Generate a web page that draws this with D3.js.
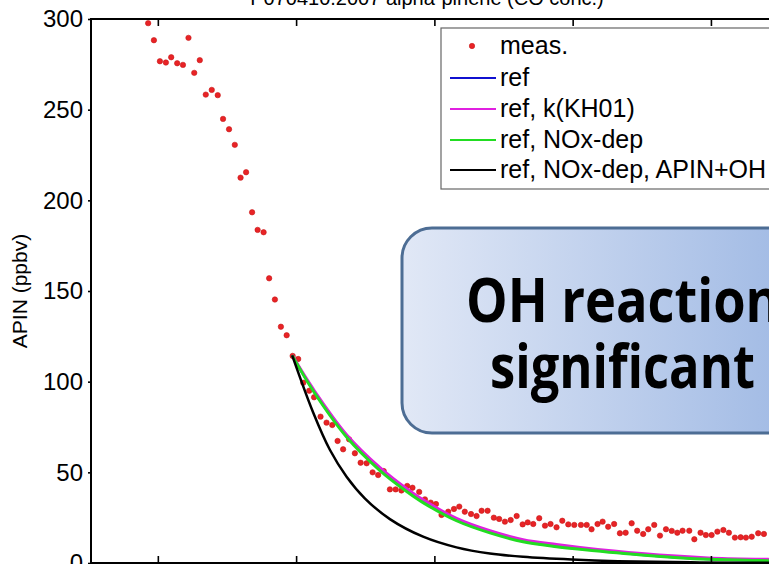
<!DOCTYPE html>
<html>
<head>
<meta charset="utf-8">
<script src="https://cdn.jsdelivr.net/npm/d3@7"></script>
<style>
  body { margin: 0; background: #fff; }
  svg { display: block; font-family: "Liberation Sans", Arial, sans-serif; }
</style>
</head>
<body>
<svg width="769" height="564"></svg>
<script>
// measured alpha-pinene (time in min, ppbv)
const measTime = [55.8, 58.3, 60.9, 63.5, 65.8, 68.4, 70.9, 73.3, 75.8, 78.2, 80.8, 83.4, 86.0, 88.3, 90.9, 93.4,
  95.9, 98.3, 100.9, 103.3, 105.9, 108.3, 110.8, 113.4, 115.9, 118.5, 120.9, 123.1, 125.7, 127.8, 130.6, 133.2,
  135.7, 138.0, 140.4, 143.0, 145.5, 148.0, 150.6, 153.2, 155.6, 158.0, 160.7, 163.2, 165.7, 168.2, 170.5, 173.4,
  175.9, 178.4, 180.7, 183.1, 186.0, 188.5, 190.8, 193.2, 195.9, 198.3, 200.5, 203.1, 205.8, 208.1, 210.6, 213.1,
  215.7, 218.3, 220.5, 222.9, 225.5, 228.0, 230.4, 233.0, 235.5, 238.1, 240.7, 243.6, 246.1, 248.2, 250.8, 253.0,
  255.4, 258.0, 260.5, 263.0, 265.6, 268.0, 270.6, 272.8, 275.4, 277.9, 280.5, 283.0, 285.4, 287.7, 290.6, 292.8,
  295.5, 297.8, 300.3, 302.8, 305.4, 307.8, 310.4, 312.9, 315.2, 317.7, 320.5, 323.0];
const measAPIN = [297.7, 288.3, 276.7, 276.0, 278.9, 275.6, 274.7, 289.6, 270.3, 277.3, 258.3, 260.9, 258.0, 244.9, 239.2, 230.6,
  212.5, 215.5, 193.4, 183.7, 182.4, 157.0, 145.3, 130.3, 125.6, 114.2, 112.5, 99.4, 95.0, 91.4, 80.7, 77.4,
  76.1, 67.3, 62.7, 68.2, 60.5, 55.3, 55.0, 50.0, 48.5, 50.7, 40.6, 40.6, 40.0, 42.5, 41.5, 39.2,
  35.1, 33.3, 32.5, 26.5, 28.3, 29.8, 31.1, 28.3, 27.0, 25.9, 28.8, 28.8, 25.0, 24.3, 22.8, 23.7,
  25.9, 21.3, 22.4, 21.5, 24.7, 20.6, 21.5, 19.7, 23.3, 21.3, 21.0, 21.0, 21.0, 18.6, 21.5, 22.8,
  20.0, 21.5, 16.4, 16.7, 21.9, 17.8, 16.0, 18.6, 21.0, 15.1, 18.6, 17.7, 16.7, 17.8, 17.8, 13.1,
  16.7, 15.4, 15.4, 17.3, 18.2, 16.7, 14.0, 14.2, 14.0, 14.5, 16.4, 16.0];

// model runs
const modelTime = [118.3, 127.4, 141.9, 156.4, 168.6, 175.1, 189.6, 204.1, 218.5, 233.0, 243.2, 269.9, 298.8, 324.9, 340.0];
const refAPIN   = [114.5, 95.3, 70.0, 51.6, 39.4, 33.8, 23.7, 17.0, 12.0, 9.3, 7.8, 4.6, 2.2, 1.4, 1.1];
const kh01APIN  = [114.5, 96.0, 70.8, 52.6, 40.4, 34.8, 24.6, 17.8, 12.9, 10.2, 8.6, 5.2, 2.8, 2.0, 1.7];
const noxAPIN   = [114.5, 95.0, 69.5, 51.0, 38.9, 33.3, 23.3, 16.6, 11.7, 9.0, 7.6, 4.4, 2.0, 1.3, 1.0];
const ohTime    = [118.3, 127.4, 134.7, 141.9, 149.8, 160.7, 175.1, 189.6, 204.1, 218.5, 239.6, 259.7, 295.2, 340.0];
const ohAPIN    = [114.5, 83.0, 62.3, 47.6, 35.7, 24.2, 14.5, 8.6, 5.2, 3.4, 1.9, 1.0, 0.3, 0.1];

const xTicks = [60, 120, 180, 240, 300];
const yTicks = [0, 50, 100, 150, 200, 250, 300];

const legendLabels = ["meas.", "ref", "ref, k(KH01)", "ref, NOx-dep", "ref, NOx-dep, APIN+OH"];
const lineColors = ["#1010d0", "#e020e0", "#22dd22", "#000000"];

const svg = d3.select("svg");
const mLeft = 91, mTop = 19, mBottom = 563, mRight = 850;

const x = d3.scaleLinear().domain([31, 60 + (mRight - 158) / 2.304]).range([mLeft, mRight]);
const y = d3.scaleLinear().domain([0, 300]).range([mBottom, mTop]);

// defs: clip + gradient
const defs = svg.append("defs");
defs.append("clipPath").attr("id", "plot")
  .append("rect").attr("x", mLeft).attr("y", mTop).attr("width", mRight - mLeft).attr("height", mBottom - mTop);
const grad = defs.append("linearGradient").attr("id", "boxfill")
  .attr("x1", "0%").attr("x2", "100%").attr("y1", "0%").attr("y2", "0%");
grad.append("stop").attr("offset", "0%").attr("stop-color", "#e1e8f6");
grad.append("stop").attr("offset", "100%").attr("stop-color", "#98b4e2");

// title (mostly cut off at the top)
svg.append("text")
  .attr("x", 427).attr("y", 5)
  .attr("text-anchor", "middle")
  .style("font-size", "20px")
  .text("P070410.2007 alpha-pinene (CO conc.)");

const plot = svg.append("g").attr("clip-path", "url(#plot)");

// measurements
plot.selectAll("circle.meas")
  .data(measTime.map((t, i) => [t, measAPIN[i]]))
  .enter().append("circle")
  .attr("class", "meas")
  .attr("cx", d => x(d[0]))
  .attr("cy", d => y(d[1]))
  .attr("r", 2.7)
  .style("fill", "#e82326")
  .style("stroke", "#c81818")
  .style("stroke-width", 0.6);

// model lines
const line = d3.line().x(d => x(d[0])).y(d => y(d[1])).curve(d3.curveCatmullRom.alpha(0.5));
const series = [
  { t: modelTime, v: refAPIN, w: 2.5 },
  { t: modelTime, v: kh01APIN, w: 3 },
  { t: modelTime, v: noxAPIN, w: 3 },
  { t: ohTime, v: ohAPIN, w: 2.5 }
];
series.forEach((s, i) => {
  plot.append("path")
    .datum(s.t.map((t, j) => [t, s.v[j]]))
    .attr("d", line)
    .style("fill", "none")
    .style("stroke", lineColors[i])
    .style("stroke-width", s.w);
});

// axes
svg.append("g")
  .attr("transform", "translate(" + mLeft + ",0)")
  .call(d3.axisLeft(y).tickValues(yTicks).tickSize(3).tickPadding(5))
  .call(g => g.select(".domain").remove())
  .call(g => g.selectAll("text").style("font-size", "24px").style("fill", "#000")
    .attr("font-family", "Liberation Sans, Arial, sans-serif"));

svg.append("g")
  .attr("transform", "translate(0," + mBottom + ")")
  .call(d3.axisTop(x).tickValues(xTicks).tickSize(7).tickFormat(""))
  .call(g => g.select(".domain").remove());
svg.append("g")
  .attr("transform", "translate(0," + mTop + ")")
  .call(d3.axisBottom(x).tickValues(xTicks).tickSize(7).tickFormat(""))
  .call(g => g.select(".domain").remove());
svg.selectAll(".tick line").style("stroke", "#000").style("stroke-width", 1.6);

// frame
svg.append("path")
  .attr("d", "M" + mRight + "," + mTop + "H" + mLeft + "V" + mBottom + "H" + mRight)
  .style("fill", "none").style("stroke", "#000").style("stroke-width", 2);

// y label
svg.append("text")
  .attr("transform", "translate(27,291) rotate(-90)")
  .attr("text-anchor", "middle")
  .style("font-size", "21px")
  .text("APIN (ppbv)");

// legend
const lg = svg.append("g");
lg.append("rect")
  .attr("x", 441).attr("y", 28).attr("width", 335).attr("height", 161)
  .style("fill", "#fff").style("stroke", "#666").style("stroke-width", 1.2);
const rowY = [54, 86, 117, 148, 178];
legendLabels.forEach((lab, i) => {
  if (i === 0) {
    lg.append("circle").attr("cx", 472).attr("cy", rowY[i] - 8).attr("r", 2.7)
      .style("fill", "#e82326").style("stroke", "#c81818").style("stroke-width", 0.6);
  } else {
    lg.append("line").attr("x1", 450).attr("x2", 496)
      .attr("y1", rowY[i] - 8).attr("y2", rowY[i] - 8)
      .style("stroke", lineColors[i - 1]).style("stroke-width", 2);
  }
  lg.append("text").attr("x", 500).attr("y", rowY[i])
    .style("font-size", "25px").text(lab);
});

// callout box
const cb = svg.append("g");
cb.append("rect")
  .attr("x", 402).attr("y", 228).attr("width", 440).attr("height", 205).attr("rx", 30)
  .style("fill", "url(#boxfill)").style("stroke", "#4d6d94").style("stroke-width", 3);
cb.append("text").attr("x", 466).attr("y", 322)
  .attr("textLength", 314).attr("lengthAdjust", "spacingAndGlyphs")
  .style("font-family", "'Open Sans', 'Noto Sans', sans-serif")
  .style("font-weight", "bold").style("font-size", "61px")
  .text("OH reaction");
cb.append("text").attr("x", 490).attr("y", 388)
  .attr("textLength", 265).attr("lengthAdjust", "spacingAndGlyphs")
  .style("font-family", "'Open Sans', 'Noto Sans', sans-serif")
  .style("font-weight", "bold").style("font-size", "61px")
  .text("significant");
</script>
</body>
</html>
